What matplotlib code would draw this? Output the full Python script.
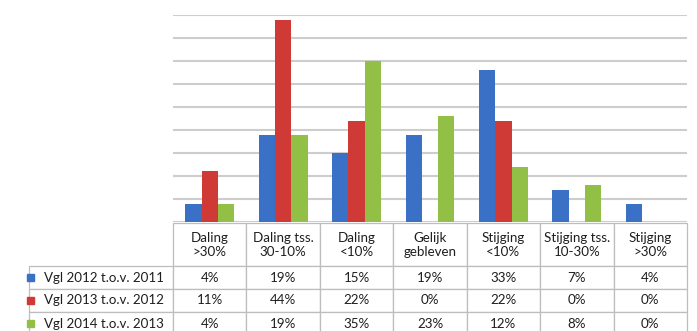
import numpy as np
import matplotlib.pyplot as plt

plt.rcParams['font.family'] = ['Lato', 'DejaVu Sans']

categories = ["Daling\n>30%", "Daling tss.\n30-10%", "Daling\n<10%", "Gelijk\ngebleven",
              "Stijging\n<10%", "Stijging tss.\n10-30%", "Stijging\n>30%"]
series_names = ["Vgl 2012 t.o.v. 2011", "Vgl 2013 t.o.v. 2012", "Vgl 2014 t.o.v. 2013"]
vgl_2012 = [4, 19, 15, 19, 33, 7, 4]
vgl_2013 = [11, 44, 22, 0, 22, 0, 0]
vgl_2014 = [4, 19, 35, 23, 12, 8, 0]
colors = ["#3a70c6", "#cf3a36", "#92bf46"]

W, H = 697, 331
AX_L, AX_R, AX_B, AX_T = 173, 687, 222, 15   # plot area in pixels
AW, AH = AX_R - AX_L, AX_B - AX_T
fig = plt.figure(figsize=(W / 100, H / 100), dpi=100)
ax = fig.add_axes([AX_L / W, (H - AX_B) / H, AW / W, AH / H])

values = [vgl_2012, vgl_2013, vgl_2014]
n = len(categories)
x = np.arange(n) + 0.5
bw = 1 / 4.5  # gap width 150%
for k, (vals, c) in enumerate(zip(values, colors)):
    ax.bar(x + (k - 1) * bw, vals, width=bw, color=c, zorder=3)

ax.set_xlim(0, n)
ax.set_ylim(0, 45)
ax.set_yticks(range(0, 50, 5))
ax.set_xticks([])
ax.tick_params(axis="y", length=0, labelleft=False)
ax.yaxis.grid(True, color="#cdcdcd", lw=1.5, zorder=0)
for s in ax.spines.values():
    s.set_visible(False)

# data table below the bars; sizes given in axes units so the bbox scale stays ~1
cell_text = [[f"{v}%" for v in vals] for vals in values]
label_w, col_w = (AX_L - 22) / AW, 1 / n
head_h, row_h = 43 / AH, 23 / AH
y_top = -1 / AH
y_bot = y_top - head_h - 3 * row_h
tbl = ax.table(cellText=cell_text, rowLabels=series_names, colLabels=categories,
               cellLoc="center", rowLoc="left",
               bbox=[0, y_bot, 1, y_top - y_bot])
tbl.auto_set_font_size(False)
tbl.set_fontsize(9.6)
for (r, c), cell in tbl.get_celld().items():
    cell.set_edgecolor("#bdbdbd")
    cell.set_linewidth(0.9)
    cell.get_text().set_color("#1e1e1e")
    cell.set_width(label_w if c == -1 else col_w)
    cell.set_height(head_h if r == 0 else row_h)

# small colour keys in front of the row labels
for k, c in enumerate(colors):
    yc = 1 - (AX_B + 1 + 43 + 23 * k + 11.5) / H
    fig.patches.append(plt.Rectangle((27 / W, yc - 3.5 / H), 7 / W, 7 / H,
                                     transform=fig.transFigure, color=c,
                                     figure=fig))

fig.savefig("out.png", dpi=100)
